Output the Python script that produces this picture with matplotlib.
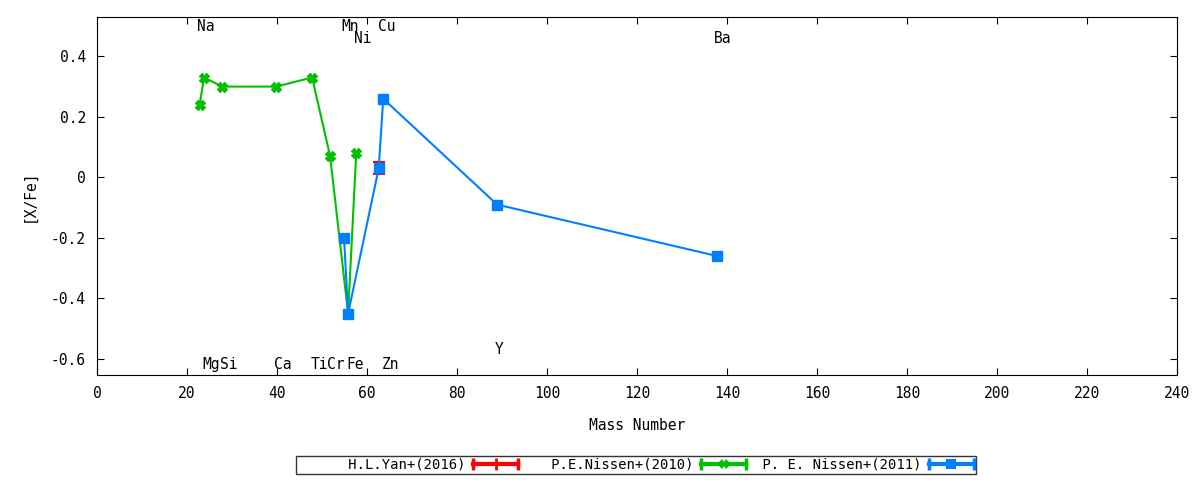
import numpy as np
import matplotlib
matplotlib.use("Agg")
import matplotlib.pyplot as plt
from matplotlib.lines import Line2D
from matplotlib.legend_handler import HandlerBase

plt.rcParams['font.family'] = ['DejaVu Sans Mono']

# H.L.Yan+(2016)
yan_mass = [62.6]
yan_xfe = [0.03]
yan_err = [0.02]

# P.E.Nissen+(2010)
nissen10_mass = [22.8, 23.8, 27.8, 39.8, 47.8, 51.8, 55.8, 57.6]
nissen10_xfe = [0.24, 0.33, 0.30, 0.30, 0.33, 0.07, -0.45, 0.08]

# P. E. Nissen+(2011)
nissen11_mass = [54.9, 55.8, 62.6, 63.6, 88.9, 137.8]
nissen11_xfe = [-0.20, -0.45, 0.03, 0.26, -0.09, -0.26]

# element labels
elem_names = ['Na', 'Mg', 'Si', 'Ca', 'Ti', 'Cr', 'Fe', 'Zn', 'Mn', 'Ni', 'Cu', 'Y', 'Ba']
elem_mass = [22.2, 23.4, 27.4, 39.4, 47.4, 51.2, 55.4, 63.4, 54.2, 57.1, 62.4, 88.4, 137.1]
elem_ypos = [0.50, -0.62, -0.62, -0.62, -0.62, -0.62, -0.62, -0.62, 0.50, 0.46, 0.50, -0.57, 0.46]

series_labels = ['H.L.Yan+(2016)', 'P.E.Nissen+(2010)', 'P. E. Nissen+(2011)']


class ErrBarHandler(HandlerBase):
    # gnuplot-like key sample: horizontal bar with caps and a marker in the middle
    def create_artists(self, legend, orig_handle, xdescent, ydescent,
                       width, height, fontsize, trans):
        c = orig_handle.get_color()
        y = height / 2 - ydescent
        x0, x1 = -xdescent, width - xdescent
        line = Line2D([x0, x1], [y, y], color=c, lw=3, transform=trans)
        caps = Line2D([x0, x1], [y, y], color=c, lw=0, marker='|',
                      markersize=9, markeredgewidth=2.5, transform=trans)
        mk = Line2D([(x0 + x1) / 2], [y], color=c, lw=0,
                    marker=orig_handle.get_marker(), markersize=orig_handle.get_markersize(),
                    markeredgewidth=orig_handle.get_markeredgewidth(), transform=trans)
        return [line, caps, mk]


fig = plt.figure(figsize=(12, 4.8), dpi=100)
ax = fig.add_axes([0.0808, 0.2188, 0.9002, 0.7458])

ax.errorbar(yan_mass, yan_xfe, yerr=yan_err, color='#ff0000', lw=1.5,
            capsize=4, capthick=1.5, marker='s', markersize=6, zorder=2)
ax.plot(nissen10_mass, nissen10_xfe, color='#00c000', lw=1.5,
        marker='X', markersize=7, zorder=3)
ax.plot(nissen11_mass, nissen11_xfe, color='#0080ff', lw=1.5,
        marker='s', markersize=7.5, zorder=4)

for name, m, yv in zip(elem_names, elem_mass, elem_ypos):
    ax.text(m, yv, name, ha='left', va='center', fontsize=10.5)

ax.set_xlim(0, 240)
ax.set_ylim(-0.653, 0.53)
ax.set_xticks(np.arange(0, 241, 20))
ax.set_yticks([-0.6, -0.4, -0.2, 0, 0.2, 0.4])
ax.set_yticklabels(['-0.6', '-0.4', '-0.2', '0', '0.2', '0.4'])
ax.tick_params(direction='in', top=True, right=True, length=5, labelsize=10.5, pad=8)
ax.set_xlabel('Mass Number', fontsize=10.5, labelpad=12)
ax.set_ylabel('[X/Fe]', fontsize=10.5, labelpad=10)

handles = [Line2D([], [], color='#ff0000', marker='|', markersize=8, markeredgewidth=2),
           Line2D([], [], color='#00c000', marker='X', markersize=7, markeredgewidth=0),
           Line2D([], [], color='#0080ff', marker='s', markersize=7, markeredgewidth=0)]
# right-align key text like gnuplot by padding to a common width
padded = [s.rjust(20) for s in series_labels]
leg = fig.legend(handles, padded, handler_map={Line2D: ErrBarHandler()},
                 loc='center', bbox_to_anchor=(0.53, 0.0313), ncol=3,
                 markerfirst=False, fontsize=10, frameon=True, fancybox=False,
                 edgecolor='black', handlelength=3.2, columnspacing=0.6,
                 borderpad=0.15, borderaxespad=0, handletextpad=0.55)
leg.get_frame().set_linewidth(1)

fig.savefig('out.png', dpi=100)
